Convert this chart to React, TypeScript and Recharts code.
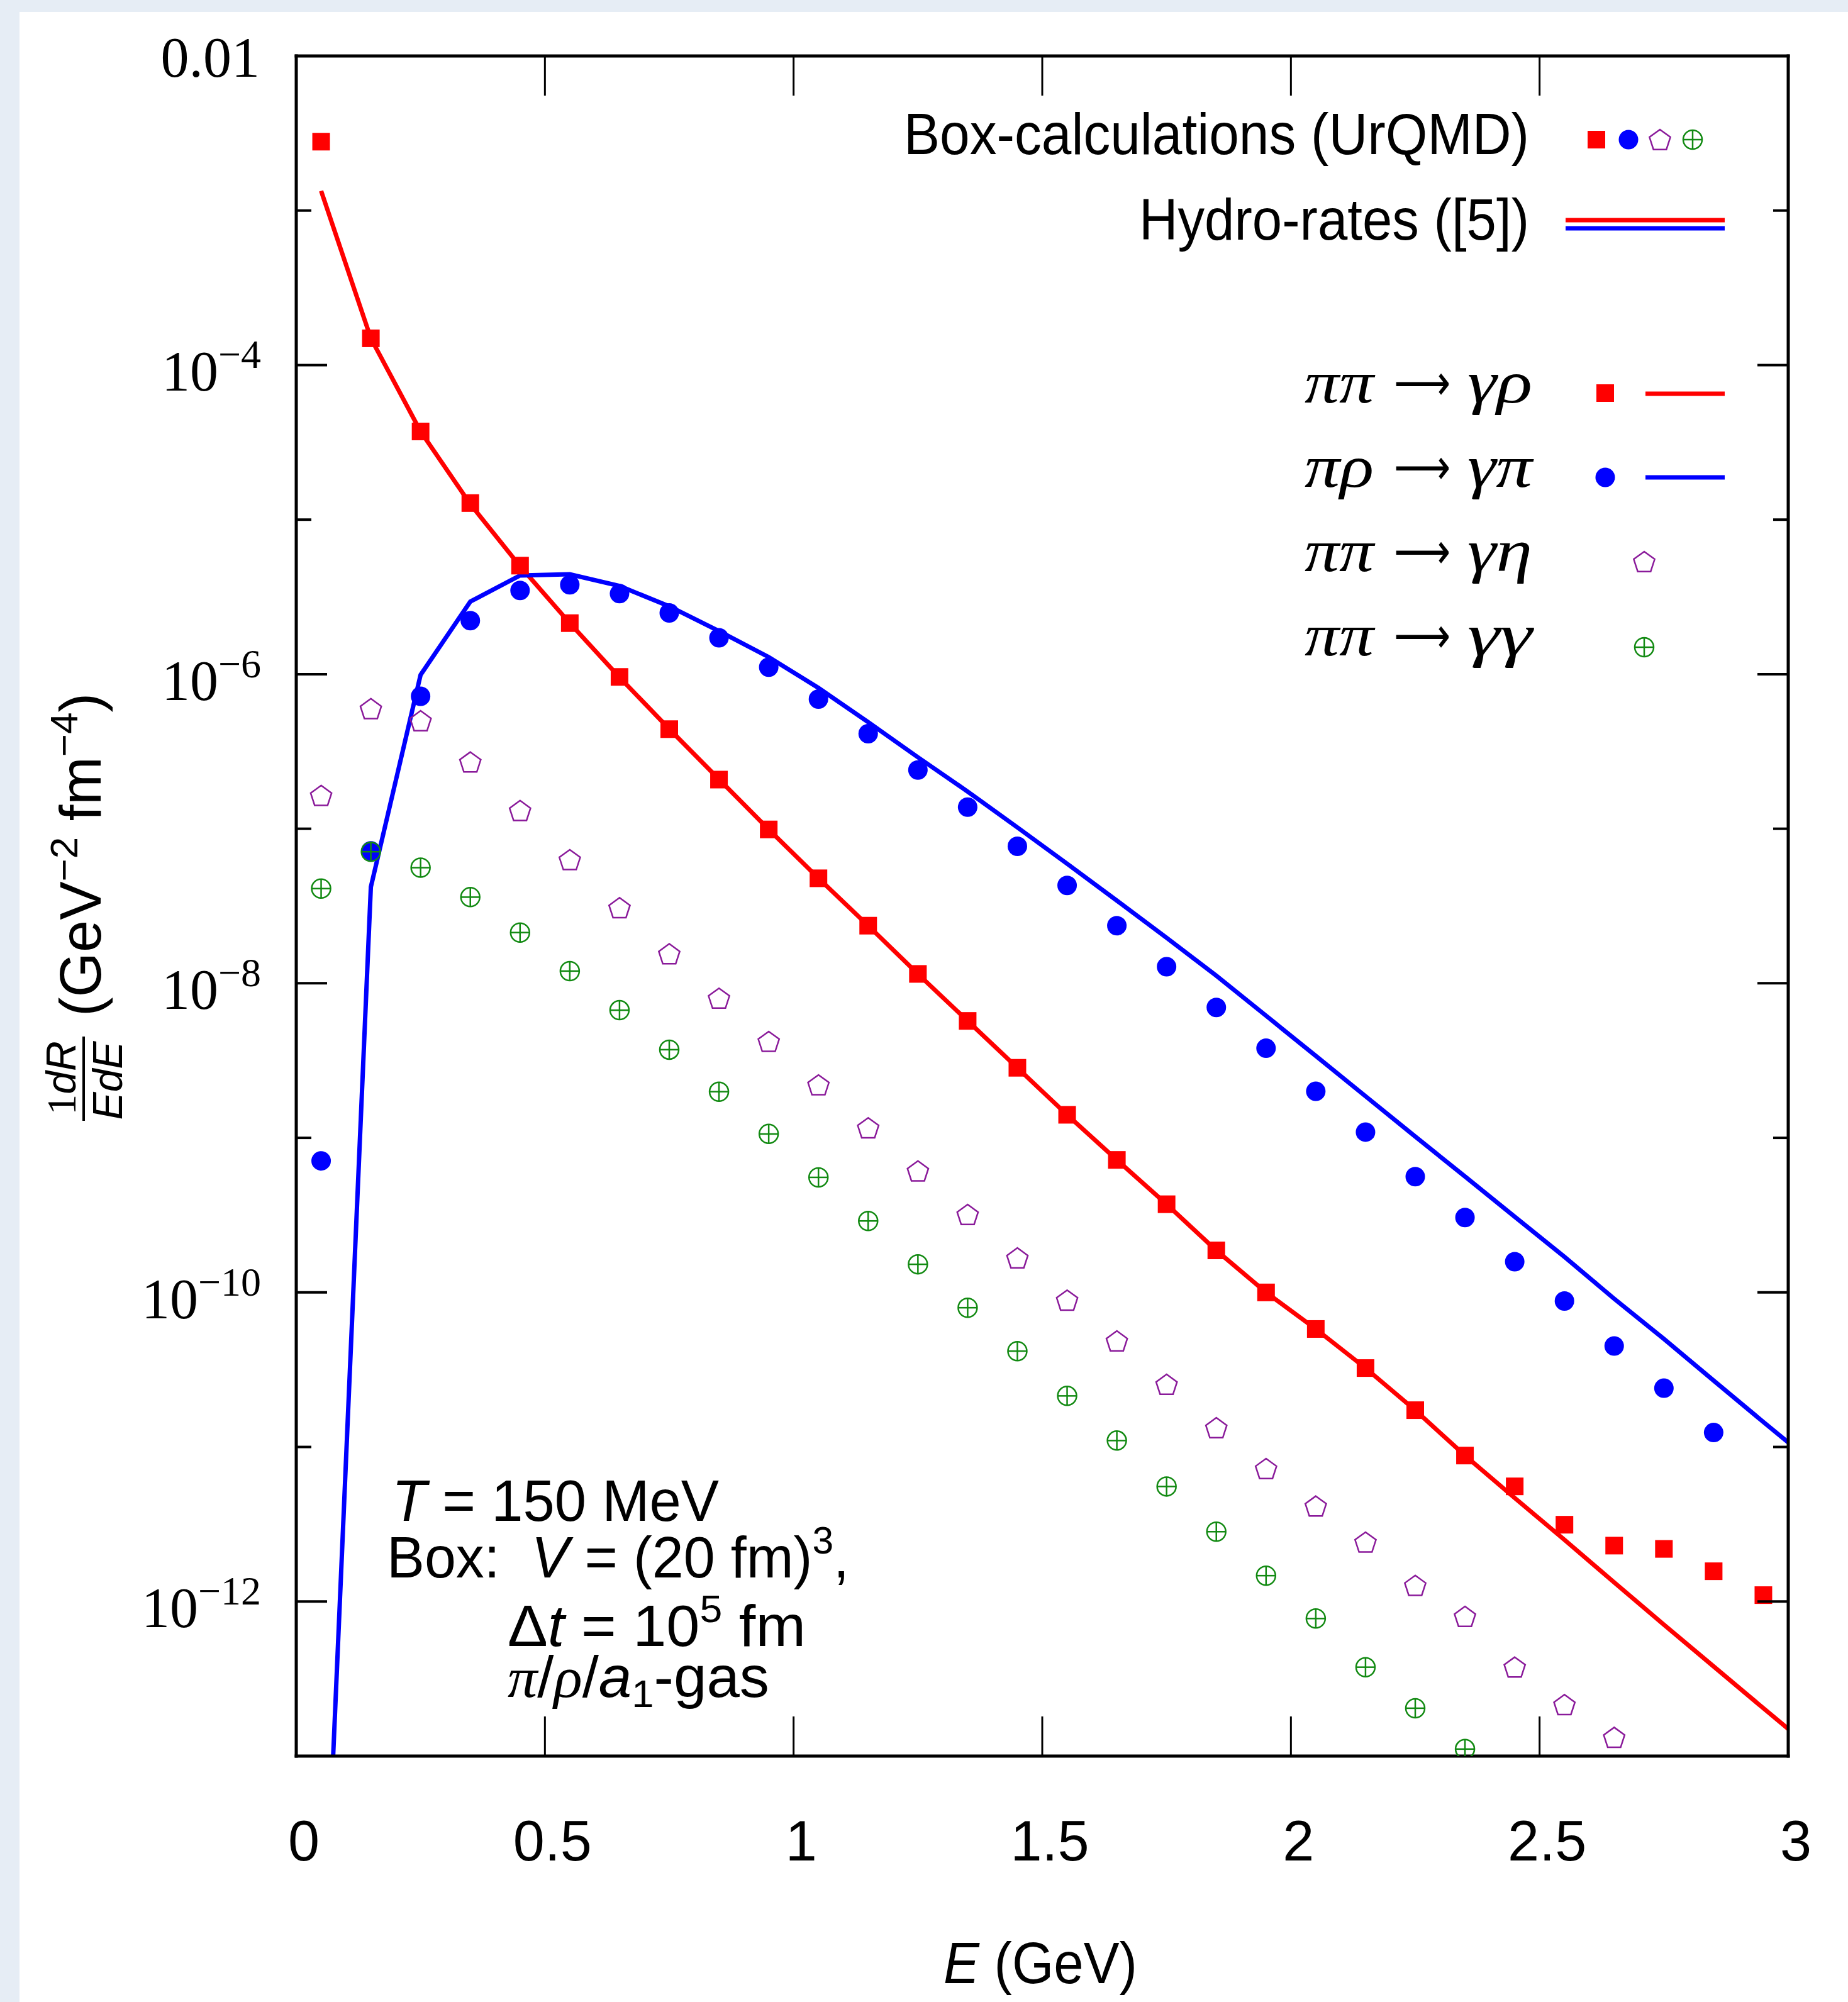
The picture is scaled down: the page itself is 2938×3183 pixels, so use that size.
import { ComposedChart, Line, Scatter, XAxis, YAxis } from 'recharts';

const W = 2938;
const H = 3183;

const RED = '#ff0000';
const BLUE = '#0000ff';
const PURPLE = '#8a1a9a';
const GREEN = '#128a12';
const SANS = "'Liberation Sans', Arial, sans-serif";
const SERIF = "'Liberation Serif', 'Times New Roman', serif";
const ARROW_FONT = "'DejaVu Sans', sans-serif";

// photon energy of the UrQMD box points (GeV)
const boxE = [
  0.05, 0.15, 0.25, 0.35, 0.45, 0.55, 0.65, 0.75, 0.85, 0.95,
  1.05, 1.15, 1.25, 1.35, 1.45, 1.55, 1.65, 1.75, 1.85, 1.95,
  2.05, 2.15, 2.25, 2.35, 2.45, 2.55, 2.65, 2.75, 2.85, 2.95,
];

// pi pi -> gamma rho (box)
const rhoBox = [
  2.79e-3, 1.49e-4, 3.72e-5, 1.28e-5, 5.04e-6, 2.14e-6, 9.6e-7, 4.41e-7, 2.08e-7, 9.9e-8,
  4.78e-8, 2.36e-8, 1.15e-8, 5.71e-9, 2.84e-9, 1.41e-9, 7.2e-10, 3.72e-10, 1.87e-10, 1.0e-10,
  5.8e-11, 3.24e-11, 1.73e-11, 8.8e-12, 5.56e-12, 3.14e-12, 2.3e-12, 2.19e-12, 1.57e-12, 1.1e-12,
];

// pi rho -> gamma pi (box)
const piBox = [
  7.1e-10, 7.2e-8, 7.2e-7, 2.22e-6, 3.48e-6, 3.79e-6, 3.32e-6, 2.49e-6, 1.72e-6, 1.11e-6,
  6.9e-7, 4.12e-7, 2.4e-7, 1.38e-7, 7.7e-8, 4.3e-8, 2.36e-8, 1.28e-8, 6.98e-9, 3.8e-9,
  2.0e-9, 1.09e-9, 5.61e-10, 3.05e-10, 1.58e-10, 8.8e-11, 4.5e-11, 2.4e-11, 1.24e-11,
];

// pi pi -> gamma eta (box)
const etaBox = [
  1.64e-7, 5.98e-7, 4.99e-7, 2.7e-7, 1.31e-7, 6.3e-8, 3.08e-8, 1.55e-8, 8.0e-9, 4.2e-9,
  2.2e-9, 1.16e-9, 6.1e-10, 3.19e-10, 1.67e-10, 8.9e-11, 4.85e-11, 2.54e-11, 1.33e-11, 7.24e-12,
  4.14e-12, 2.42e-12, 1.27e-12, 8.0e-13, 3.76e-13, 2.15e-13, 1.32e-13,
];

// pi pi -> gamma gamma (box)
const gammaBox = [
  4.1e-8, 7.1e-8, 5.6e-8, 3.61e-8, 2.13e-8, 1.2e-8, 6.7e-9, 3.72e-9, 1.99e-9, 1.06e-9,
  5.55e-10, 2.9e-10, 1.52e-10, 7.96e-11, 4.17e-11, 2.14e-11, 1.1e-11, 5.55e-12, 2.83e-12, 1.47e-12,
  7.76e-13, 3.76e-13, 2.04e-13, 1.11e-13,
];

// hydro rates ([5])
const hydroE = [
  0.05, 0.15, 0.25, 0.35, 0.45, 0.55, 0.65, 0.75, 0.85, 0.95,
  1.05, 1.15, 1.25, 1.35, 1.45, 1.55, 1.65, 1.75, 1.85, 1.95,
  2.05, 2.15, 2.25, 2.35, 2.45, 2.55, 2.65, 2.75, 2.85, 2.95, 3.0,
];
const rhoHydro = [
  1.34e-3, 1.49e-4, 3.72e-5, 1.26e-5, 5.0e-6, 2.14e-6, 9.55e-7, 4.42e-7, 2.09e-7, 9.9e-8,
  4.79e-8, 2.36e-8, 1.15e-8, 5.71e-9, 2.84e-9, 1.41e-9, 7.2e-10, 3.72e-10, 1.87e-10, 1.0e-10,
  5.8e-11, 3.24e-11, 1.73e-11, 8.8e-12, 4.68e-12, 2.51e-12, 1.33e-12, 7.08e-13, 3.8e-13, 2.04e-13, 1.5e-13,
];
const piHydro = [
  1.6e-15, 4.2e-8, 9.9e-7, 2.95e-6, 4.35e-6, 4.43e-6, 3.72e-6, 2.75e-6, 1.9e-6, 1.29e-6,
  8.15e-7, 4.9e-7, 2.9e-7, 1.74e-7, 1.02e-7, 5.94e-8, 3.43e-8, 1.97e-8, 1.12e-8, 6.17e-9,
  3.39e-9, 1.86e-9, 1.02e-9, 5.62e-10, 3.09e-10, 1.7e-10, 9.1e-11, 5.0e-11, 2.69e-11, 1.45e-11, 1.07e-11,
];

const xTicks = [0, 0.5, 1, 1.5, 2, 2.5, 3];
const xTickLabels = ['0', '0.5', '1', '1.5', '2', '2.5', '3'];
const yTicks = [1e-2, 1e-3, 1e-4, 1e-5, 1e-6, 1e-7, 1e-8, 1e-9, 1e-10, 1e-11, 1e-12, 1e-13];
const yTickLabels = ['0.01', '', '10^−4', '', '10^−6', '', '10^−8', '', '10^−10', '', '10^−12', ''];

// reaction labels: [initial, final]
const reactions = [
  ['ππ', 'γρ'],
  ['πρ', 'γπ'],
  ['ππ', 'γη'],
  ['ππ', 'γγ'],
];

const toPoints = (xs: number[], ys: number[]) => ys.map((y, i) => ({ x: xs[i], y }));

// ---- marker shapes ----
const Square = ({ cx, cy }: any) => (
  <rect x={cx - 14} y={cy - 14} width={28} height={28} fill={RED} />
);
const Dot = ({ cx, cy }: any) => <circle cx={cx} cy={cy} r={15.5} fill={BLUE} />;
const Pentagon = ({ cx, cy }: any) => {
  const R = 17.5;
  const pts = [0, 1, 2, 3, 4]
    .map((k) => {
      const a = ((-90 + 72 * k) * Math.PI) / 180;
      return `${cx + R * Math.cos(a)},${cy + 1.5 + R * Math.sin(a)}`;
    })
    .join(' ');
  return <polygon points={pts} fill="none" stroke={PURPLE} strokeWidth={2.5} />;
};
const OPlus = ({ cx, cy }: any) => (
  <g stroke={GREEN} strokeWidth={2.5} fill="none">
    <circle cx={cx} cy={cy} r={15} />
    <line x1={cx - 15} x2={cx + 15} y1={cy} y2={cy} />
    <line x1={cx} x2={cx} y1={cy - 15} y2={cy + 15} />
  </g>
);

// ---- axis ticks (gnuplot style, pointing inward) ----
const BottomTick = ({ x, y, payload }: any) => {
  const i = xTicks.indexOf(payload.value);
  return (
    <g>
      <line x1={x} x2={x} y1={y} y2={y - 63} stroke="#000" strokeWidth={3} />
      <text x={x + 12} y={y + 166} textAnchor="middle" fontSize={90} fontFamily={SANS} fill="#000">
        {xTickLabels[i]}
      </text>
    </g>
  );
};
const TopTick = ({ x, y }: any) => (
  <line x1={x} x2={x} y1={y} y2={y + 63} stroke="#000" strokeWidth={3} />
);
const yIndex = (v: number) =>
  yTicks.findIndex((t) => Math.abs(Math.log10(t) - Math.log10(v)) < 1e-6);

const LeftTick = ({ x, y, payload }: any) => {
  const label = yTickLabels[yIndex(payload.value)] || '';
  const len = label ? 49 : 24;
  let txt = null;
  if (label.includes('^')) {
    const [base, exp] = label.split('^');
    txt = (
      <text x={x - 56} y={y + 41} textAnchor="end" fontSize={90} fontFamily={SERIF} fill="#000">
        {base}
        <tspan dy={-36} fontSize={64}>{exp}</tspan>
      </text>
    );
  } else if (label) {
    txt = (
      <text x={x - 58} y={y + 33} textAnchor="end" fontSize={90} fontFamily={SERIF} fill="#000">
        {label}
      </text>
    );
  }
  return (
    <g>
      <line x1={x} x2={x + len} y1={y} y2={y} stroke="#000" strokeWidth={4} />
      {txt}
    </g>
  );
};
const RightTick = ({ x, y, payload }: any) => {
  const len = yTickLabels[yIndex(payload.value)] ? 49 : 24;
  return <line x1={x} x2={x - len} y1={y} y2={y} stroke="#000" strokeWidth={4} />;
};

const frame = { stroke: '#000', strokeWidth: 5, strokeLinecap: 'square' as const };

function Overlay() {
  const rowBase = [640, 774, 908, 1042];
  return (
    <svg
      width={W}
      height={H}
      style={{ position: 'absolute', left: 0, top: 0, pointerEvents: 'none' }}
    >
      {/* legend */}
      <text x={1437} y={245} fontSize={92} fontFamily={SANS} textLength={994} lengthAdjust="spacingAndGlyphs">
        Box-calculations (UrQMD)
      </text>
      <Square cx={2538} cy={222} />
      <Dot cx={2589} cy={222} />
      <Pentagon cx={2639} cy={222} />
      <OPlus cx={2691} cy={222} />
      <text x={1811} y={381} fontSize={92} fontFamily={SANS} textLength={620} lengthAdjust="spacingAndGlyphs">
        Hydro-rates ([5])
      </text>
      <line x1={2489} x2={2742} y1={350} y2={350} stroke={RED} strokeWidth={7} />
      <line x1={2489} x2={2742} y1={363} y2={363} stroke={BLUE} strokeWidth={7} />

      <g fontFamily={SERIF} fontStyle="italic" fontSize={96}>
        {reactions.map(([a, b], i) => (
          <g key={i}>
            <text x={2074} y={rowBase[i]} textLength={110} lengthAdjust="spacingAndGlyphs">{a}</text>
            <text
              x={2216}
              y={rowBase[i] - 4}
              fontFamily={ARROW_FONT}
              fontStyle="normal"
              fontSize={80}
              textLength={90}
              lengthAdjust="spacingAndGlyphs"
            >
              ⟶
            </text>
            <text x={2333} y={rowBase[i]} textLength={103} lengthAdjust="spacingAndGlyphs">{b}</text>
          </g>
        ))}
      </g>
      <Square cx={2552} cy={625} />
      <line x1={2616} x2={2742} y1={626} y2={626} stroke={RED} strokeWidth={7} />
      <Dot cx={2552} cy={759} />
      <line x1={2616} x2={2742} y1={759} y2={759} stroke={BLUE} strokeWidth={7} />
      <Pentagon cx={2614} cy={893} />
      <OPlus cx={2614} cy={1029} />

      {/* annotation */}
      <g fontFamily={SANS} fontSize={92}>
        <text x={623} y={2418} textLength={520} lengthAdjust="spacingAndGlyphs">
          <tspan fontStyle="italic">T</tspan> = 150 MeV
        </text>
        <text x={615} y={2508} textLength={735} lengthAdjust="spacingAndGlyphs">
          {'Box:\u00a0\u00a0'}<tspan fontStyle="italic">V</tspan> = (20 fm)
          <tspan dy={-38} fontSize={62}>3</tspan>
          <tspan dy={38}>,</tspan>
        </text>
        <text x={807} y={2617} textLength={474} lengthAdjust="spacingAndGlyphs">
          Δ<tspan fontStyle="italic">t</tspan> = 10
          <tspan dy={-38} fontSize={62}>5</tspan>
          <tspan dy={38}> fm</tspan>
        </text>
        <text x={807} y={2698} textLength={416} lengthAdjust="spacingAndGlyphs">
          <tspan fontFamily={SERIF} fontStyle="italic">π</tspan>/
          <tspan fontFamily={SERIF} fontStyle="italic">ρ</tspan>/
          <tspan fontStyle="italic">a</tspan>
          <tspan dy={16} fontSize={62}>1</tspan>
          <tspan dy={-16}>-gas</tspan>
        </text>
      </g>

      {/* x title */}
      <text x={1500} y={3153} fontSize={92} fontFamily={SANS} textLength={308} lengthAdjust="spacingAndGlyphs">
        <tspan fontStyle="italic">E</tspan> (GeV)
      </text>

      {/* y title */}
      <g transform="translate(158,1782) rotate(-90)">
        <text x={68} y={-38} textAnchor="middle" fontSize={66} fontFamily={SERIF}>
          1<tspan fontFamily={SANS} fontStyle="italic">dR</tspan>
        </text>
        <line x1={0} x2={134} y1={-25} y2={-25} stroke="#000" strokeWidth={4} />
        <text x={64} y={36} textAnchor="middle" fontSize={66} fontFamily={SANS} fontStyle="italic">
          EdE
        </text>
        <text x={166} y={2} fontSize={92} fontFamily={SANS} textLength={514} lengthAdjust="spacingAndGlyphs">
          (GeV<tspan dy={-37} fontSize={62}>−2</tspan>
          <tspan dy={37}> fm</tspan>
          <tspan dy={-37} fontSize={62}>−4</tspan>
          <tspan dy={37}>)</tspan>
        </text>
      </g>
    </svg>
  );
}

export default function App() {
  return (
    <div style={{ position: 'relative', width: W, height: H, background: '#e6edf5', overflow: 'hidden' }}>
      <style>{'body{margin:0}'}</style>
      <div style={{ position: 'absolute', left: 31, top: 19, right: 0, bottom: 0, background: '#fff' }} />
      <div style={{ position: 'absolute', left: 0, top: 0 }}>
        <ComposedChart width={W} height={H} margin={{ top: 79, right: 85, bottom: 291, left: 371 }}>
          <XAxis
            dataKey="x"
            type="number"
            domain={[0, 3]}
            ticks={xTicks}
            interval={0}
            allowDataOverflow
            height={100}
            tickSize={0}
            tickMargin={0}
            tickLine={false}
            axisLine={frame}
            tick={BottomTick}
          />
          <XAxis
            xAxisId="top"
            orientation="top"
            dataKey="x"
            type="number"
            domain={[0, 3]}
            ticks={xTicks}
            interval={0}
            allowDataOverflow
            height={10}
            tickSize={0}
            tickMargin={0}
            tickLine={false}
            axisLine={frame}
            tick={TopTick}
          />
          <YAxis
            type="number"
            scale="log"
            domain={[1e-13, 1e-2]}
            ticks={yTicks}
            interval={0}
            allowDataOverflow
            width={100}
            tickSize={0}
            tickMargin={0}
            tickLine={false}
            axisLine={frame}
            tick={LeftTick}
          />
          <YAxis
            yAxisId="right"
            orientation="right"
            type="number"
            scale="log"
            domain={[1e-13, 1e-2]}
            ticks={yTicks}
            interval={0}
            allowDataOverflow
            width={10}
            tickSize={0}
            tickMargin={0}
            tickLine={false}
            axisLine={frame}
            tick={RightTick}
          />
          <Line
            data={toPoints(hydroE, rhoHydro)}
            dataKey="y"
            type="linear"
            stroke={RED}
            strokeWidth={7}
            dot={false}
            activeDot={false}
            isAnimationActive={false}
          />
          <Line
            data={toPoints(hydroE, piHydro)}
            dataKey="y"
            type="linear"
            stroke={BLUE}
            strokeWidth={7}
            dot={false}
            activeDot={false}
            isAnimationActive={false}
          />
          <Scatter data={toPoints(boxE, rhoBox)} dataKey="y" shape={Square} isAnimationActive={false} />
          <Scatter data={toPoints(boxE, piBox)} dataKey="y" shape={Dot} isAnimationActive={false} />
          <Scatter data={toPoints(boxE, etaBox)} dataKey="y" shape={Pentagon} isAnimationActive={false} />
          <Scatter data={toPoints(boxE, gammaBox)} dataKey="y" shape={OPlus} isAnimationActive={false} />
        </ComposedChart>
      </div>
      <Overlay />
    </div>
  );
}
